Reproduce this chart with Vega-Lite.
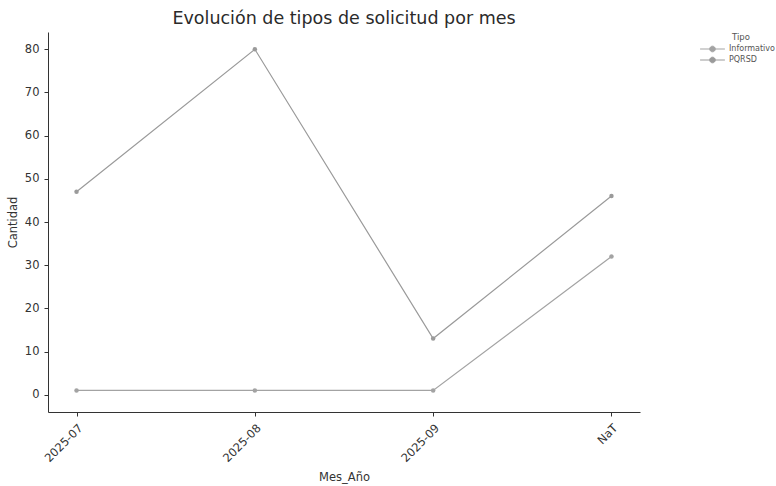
{
  "$schema": "https://vega.github.io/schema/vega-lite/v6.json",
  "width": 592,
  "height": 380,
  "autosize": {"type": "none"},
  "padding": {"left": 48, "top": 32, "right": 136, "bottom": 74},
  "background": "white",
  "title": {
    "text": "Evolución de tipos de solicitud por mes",
    "font": "DejaVu Sans",
    "fontSize": 17.5,
    "fontWeight": "normal",
    "color": "#2a2a2a",
    "anchor": "middle",
    "offset": 5
  },
  "config": {
    "view": {"stroke": null},
    "axis": {
      "labelFont": "DejaVu Sans",
      "titleFont": "DejaVu Sans",
      "labelColor": "#333333",
      "titleColor": "#333333",
      "labelFontSize": 11.5,
      "titleFontSize": 11.5,
      "titleFontWeight": "normal",
      "domainColor": "#333333",
      "tickColor": "#333333",
      "grid": false,
      "tickSize": 4
    }
  },
  "data": {
    "values": [
      {"Mes_Año": "2025-07", "Tipo": "Informativo", "Cantidad": 1},
      {"Mes_Año": "2025-08", "Tipo": "Informativo", "Cantidad": 1},
      {"Mes_Año": "2025-09", "Tipo": "Informativo", "Cantidad": 1},
      {"Mes_Año": "NaT", "Tipo": "Informativo", "Cantidad": 32},
      {"Mes_Año": "2025-07", "Tipo": "PQRSD", "Cantidad": 47},
      {"Mes_Año": "2025-08", "Tipo": "PQRSD", "Cantidad": 80},
      {"Mes_Año": "2025-09", "Tipo": "PQRSD", "Cantidad": 13},
      {"Mes_Año": "NaT", "Tipo": "PQRSD", "Cantidad": 46}
    ]
  },
  "encoding": {
    "x": {
      "field": "Mes_Año",
      "type": "ordinal",
      "sort": ["2025-07", "2025-08", "2025-09", "NaT"],
      "scale": {"type": "point", "padding": 0.16},
      "axis": {
        "title": "Mes_Año",
        "labelAngle": -45,
        "labelAlign": "right",
        "labelBaseline": "top",
        "labelPadding": 6,
        "titlePadding": 7
      }
    },
    "y": {
      "field": "Cantidad",
      "type": "quantitative",
      "scale": {"domain": [-4, 84], "nice": false, "zero": false},
      "axis": {
        "title": "Cantidad",
        "values": [0, 10, 20, 30, 40, 50, 60, 70, 80],
        "labelPadding": 5,
        "titlePadding": 6
      }
    },
    "color": {
      "field": "Tipo",
      "type": "nominal",
      "scale": {"domain": ["Informativo", "PQRSD"], "range": ["#a3a3a3", "#9a9a9a"]},
      "legend": {
        "title": "Tipo",
        "orient": "none",
        "legendX": 660,
        "legendY": 1,
        "titleFont": "DejaVu Sans",
        "titleFontSize": 8.5,
        "titleFontWeight": "normal",
        "titleColor": "#555555",
        "titleAnchor": "middle",
        "titlePadding": 3,
        "labelFont": "DejaVu Sans",
        "labelFontSize": 8,
        "labelColor": "#555555",
        "labelOffset": 12,
        "symbolType": "M-3.1,0L-0.7,0M0.7,0L3.1,0M-0.7,0a0.7,0.7 0 1,0 1.4,0a0.7,0.7 0 1,0 -1.4,0",
        "symbolSize": 64,
        "symbolStrokeWidth": 1,
        "rowPadding": 0
      }
    }
  },
  "layer": [
    {"mark": {"type": "line", "strokeWidth": 1.2}},
    {"mark": {"type": "circle", "size": 20, "opacity": 1}}
  ]
}
